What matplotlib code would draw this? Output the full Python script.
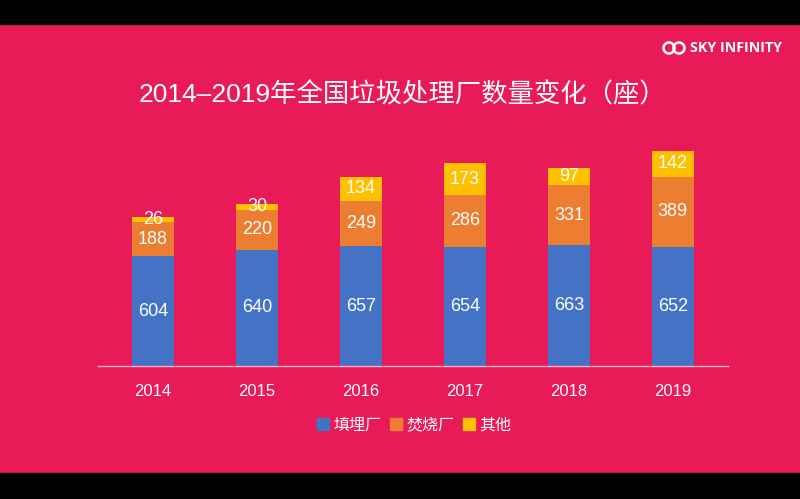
import matplotlib
matplotlib.use("Agg")
import matplotlib.pyplot as plt
from matplotlib.patches import Rectangle, Ellipse
from matplotlib.lines import Line2D
import numpy as np

plt.rcParams['font.family'] = ['Liberation Sans', 'Noto Sans CJK SC', 'DejaVu Sans']

years = ["2014", "2015", "2016", "2017", "2018", "2019"]
landfill = [604, 640, 657, 654, 663, 652]
incineration = [188, 220, 249, 286, 331, 389]
other = [26, 30, 134, 173, 97, 142]
series_names = ["填埋厂", "焚烧厂", "其他"]
title = "2014–2019年全国垃圾处理厂数量变化（座）"

bg = "#E91A58"
colors = ["#4472C4", "#ED7D31", "#FFC000"]

fig = plt.figure(figsize=(8, 4.99), dpi=100, facecolor=bg)

# letterbox bands
fig.patches.append(Rectangle((0, 1 - 24 / 499), 1, 24 / 499, transform=fig.transFigure, color="black", zorder=0))
fig.patches.append(Rectangle((0, 0), 1, 26 / 499, transform=fig.transFigure, color="black", zorder=0))

ax = fig.add_axes([98 / 800, 133 / 499, 630 / 800, 0.474])
ax.set_facecolor(bg)
ax.patch.set_alpha(0)

x = np.arange(len(years))
w = 0.4
bottoms = np.zeros(len(years))
for vals, c in zip([landfill, incineration, other], colors):
    v = np.array(vals, dtype=float)
    ax.bar(x, v, w, bottom=bottoms, color=c, zorder=2)
    for xi, b, vi in zip(x, bottoms, v):
        ax.text(xi, b + vi / 2, str(int(vi)), ha="center", va="center",
                color="white", fontsize=13, zorder=3)
    bottoms += v

ax.set_xlim(-0.53, 5.53)
ax.set_ylim(0, 1300)
ax.set_yticks([])
for s in ["top", "right", "left"]:
    ax.spines[s].set_visible(False)
ax.spines["bottom"].set_color("#F6B0C6")
ax.spines["bottom"].set_linewidth(1)
ax.set_xticks(x)
ax.set_xticklabels(years, color="white", fontsize=12)
ax.tick_params(axis="x", length=0, pad=13)

fig.text(0.503, 1 - 95 / 499, title, ha="center", va="center", color="white", fontsize=19)

# logo
fig.text(690 / 800, 1 - 48 / 499, "SKY INFINITY", ha="left", va="center",
         color="white", fontsize=10.3, fontweight="bold", family=["Open Sans", "DejaVu Sans"])
for cx in (669, 679):
    fig.patches.append(Ellipse((cx / 800, 1 - 48 / 499), 11 / 800, 11 / 499,
                               transform=fig.transFigure, fill=False, edgecolor="white", lw=1.8))

handles = [Line2D([], [], marker="s", linestyle="none", markersize=9,
                  markerfacecolor=c, markeredgecolor=c) for c in colors]
leg = fig.legend(handles, series_names, loc="center", bbox_to_anchor=(415 / 800, 1 - 425 / 499),
                 ncol=3, frameon=False, fontsize=11.5, handletextpad=0.35, columnspacing=0.6,
                 handlelength=0.6)
for t in leg.get_texts():
    t.set_color("white")

fig.savefig("out.png", dpi=100, facecolor=bg)
